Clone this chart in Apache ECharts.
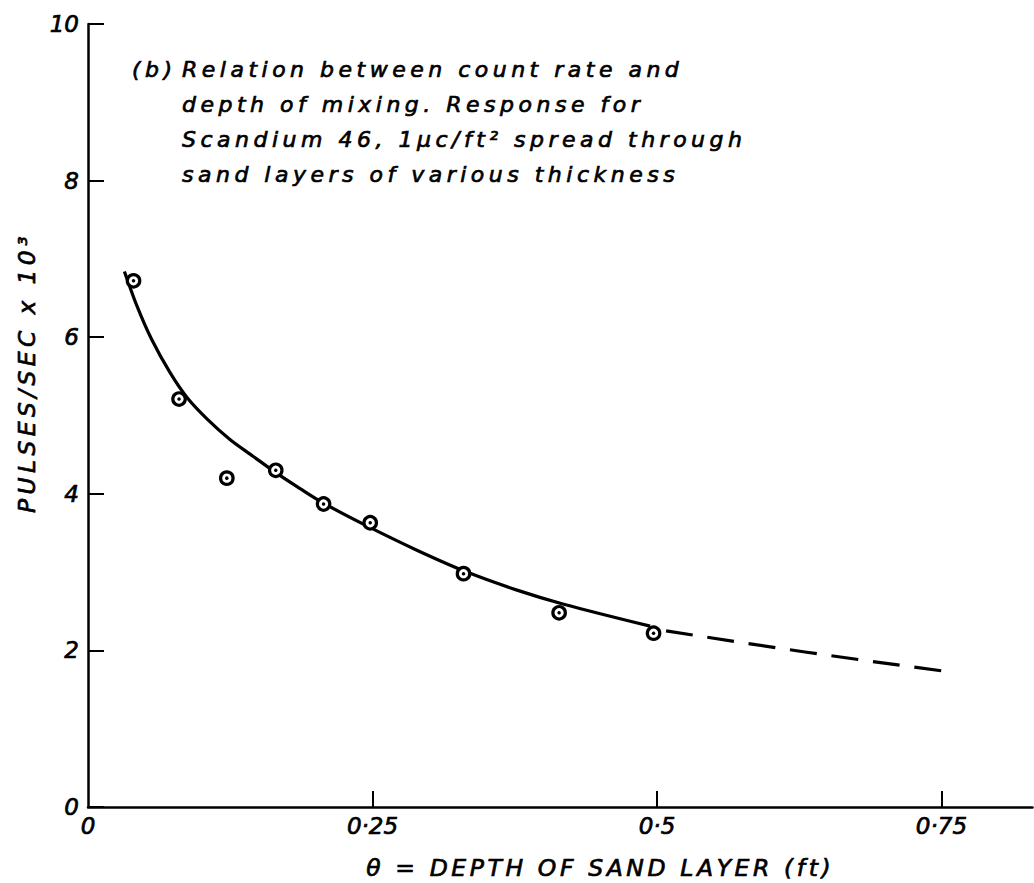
<!DOCTYPE html>
<html><head><meta charset="utf-8">
<script src="https://cdn.jsdelivr.net/npm/echarts@6/dist/echarts.min.js"></script>
<style>
html,body{margin:0;padding:0;background:#fff;}
#chart{width:1034px;height:883px;}
#chart text[style*="22px"]{letter-spacing:4.5px;}
#chart text[style*="23.5px"]{letter-spacing:3.6px;}
#chart text[style*="23.4px"]{letter-spacing:4.4px;}
</style>
</head><body><div id="chart"></div>
<script>
// measured points (depth ft, pulses/sec x 10^3)
const pointsX = [0.040, 0.080, 0.122, 0.165, 0.207, 0.248, 0.330, 0.414, 0.497];
const pointsY = [6.72, 5.21, 4.20, 4.30, 3.87, 3.63, 2.98, 2.48, 2.22];
// fitted curve (solid)
const curveX = [0.032, 0.043, 0.056, 0.072, 0.087, 0.105, 0.125, 0.145, 0.165, 0.186, 0.207, 0.245, 0.289, 0.333, 0.377, 0.418, 0.494];
const curveY = [6.84, 6.40, 5.97, 5.55, 5.23, 4.95, 4.69, 4.48, 4.27, 4.07, 3.88, 3.59, 3.28, 3.00, 2.77, 2.59, 2.31];
// extrapolation (dashed)
const dashX = [0.508, 0.630, 0.750];
const dashY = [2.25, 1.98, 1.74];
// tick labels
const xTickValues = [0, 0.25, 0.5, 0.75];
const xTickLabels = ['0', '0·25', '0·5', '0·75'];
const yTickValues = [0, 2, 4, 6, 8, 10];
const yTickLabels = ['0', '2', '4', '6', '8', '10'];
// texts
const noteLabel = '(b)';
const noteLines = [
  'Relation between count rate and',
  'depth of mixing. Response for',
  'Scandium 46, 1μc/ft² spread through',
  'sand layers of various thickness'
];
const xName = 'θ = DEPTH OF SAND LAYER (ft)';
const yName = 'PULSES/SEC x 10³';

const zip = (a, b) => a.map((v, i) => [v, b[i]]);
const FONT = 'DejaVu Sans';
const ink = {color: '#000', textBorderColor: '#000', textBorderWidth: 0.7};

const chart = echarts.init(document.getElementById('chart'), null, {renderer: 'svg'});
chart.setOption({
  animation: false,
  backgroundColor: '#fff',
  title: [
    {text: noteLabel, left: 132, top: 52, padding: 0,
     textStyle: Object.assign({fontFamily: FONT, fontSize: 22, fontStyle: 'italic', fontWeight: 'normal', lineHeight: 35}, ink)},
    {text: noteLines.join('\n'), left: 182, top: 52, padding: 0,
     textStyle: Object.assign({fontFamily: FONT, fontSize: 22, fontStyle: 'italic', fontWeight: 'normal', lineHeight: 35}, ink)}
  ],
  grid: {left: 88, top: 24, right: 1.5, bottom: 76, containLabel: false, outerBoundsMode: 'none'},
  xAxis: {
    type: 'value', min: 0, max: 0.83, interval: 0.25,
    axisLine: {lineStyle: {color: '#000', width: 2.5}},
    axisTick: {inside: true, length: 16, customValues: xTickValues.slice(1), lineStyle: {color: '#000', width: 2}},
    splitLine: {show: false},
    axisLabel: Object.assign({
      customValues: xTickValues, margin: 7, fontSize: 23, fontStyle: 'italic', fontFamily: FONT,
      formatter: v => { const i = xTickValues.findIndex(t => Math.abs(t - v) < 1e-6); return i >= 0 ? xTickLabels[i] : ''; }
    }, ink),
    name: xName, nameLocation: 'middle', nameGap: 49,
    nameTextStyle: Object.assign({fontFamily: FONT, fontSize: 23.5, fontStyle: 'italic', padding: [0, 0, 0, 80]}, ink)
  },
  yAxis: {
    type: 'value', min: 0, max: 10, interval: 2,
    axisLine: {lineStyle: {color: '#000', width: 2.5}},
    axisTick: {inside: true, length: 16, lineStyle: {color: '#000', width: 2}},
    splitLine: {show: false},
    axisLabel: Object.assign({
      margin: 9, fontSize: 23, fontStyle: 'italic', fontFamily: FONT,
      formatter: v => { const i = yTickValues.indexOf(v); return i >= 0 ? yTickLabels[i] : ''; }
    }, ink),
    name: yName, nameLocation: 'middle', nameGap: 38, nameRotate: 90,
    nameTextStyle: Object.assign({fontFamily: FONT, fontSize: 23.4, fontStyle: 'italic', padding: [0, 0, 0, 86]}, ink)
  },
  series: [
    {type: 'line', data: zip(curveX, curveY), smooth: 0.3, showSymbol: false, symbol: 'none',
     lineStyle: {color: '#000', width: 3.2}, z: 2},
    {type: 'line', data: zip(dashX, dashY), smooth: true, showSymbol: false, symbol: 'none',
     lineStyle: {color: '#000', width: 3.2, type: [27, 14.8]}, z: 2},
    {type: 'scatter', data: zip(pointsX, pointsY), symbol: 'circle', symbolSize: 12.5,
     itemStyle: {color: '#fff', borderColor: '#000', borderWidth: 3.2, opacity: 1}, z: 3},
    {type: 'scatter', data: zip(pointsX, pointsY), symbol: 'circle', symbolSize: 3.5,
     itemStyle: {color: '#000', opacity: 1}, z: 4}
  ]
});
</script></body></html>
